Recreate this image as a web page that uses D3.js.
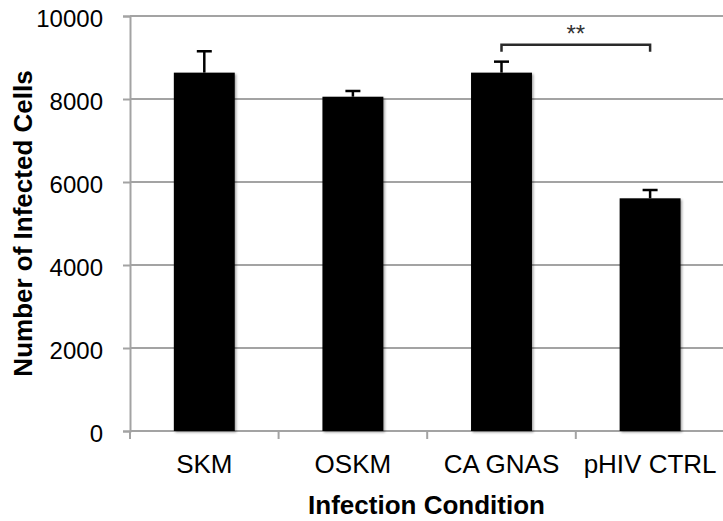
<!DOCTYPE html>
<html>
<head>
<meta charset="utf-8">
<script src="https://cdn.jsdelivr.net/npm/d3@7/dist/d3.min.js"></script>
<style>
  html, body { margin: 0; padding: 0; background: #fff; }
  svg { display: block; }
  text { font-family: "Liberation Sans", Arial, sans-serif; }
</style>
</head>
<body>
<svg id="chart" width="723" height="521"></svg>
<script>
const categories = ["SKM", "OSKM", "CA GNAS", "pHIV CTRL"];
const values = [8635, 8055, 8635, 5607];
const errors = [515, 138, 265, 200];
const yTicks = [0, 2000, 4000, 6000, 8000, 10000];
const sigPair = ["CA GNAS", "pHIV CTRL"];
const sigLabel = "**";
const xTitle = "Infection Condition";
const yTitle = "Number of Infected Cells";

(function () {
const svg = d3.select("#chart");
const W = 723, H = 521;
const mLeft = 130, mRight = 724.4, mTop = 16, mBottom = 431;

const y = d3.scaleLinear().domain([0, 10000]).range([mBottom, mTop]);
const xCat = d3.scaleBand().domain(categories).range([mLeft, mRight]).padding(0);
const barFrac = 0.41;
const bw = xCat.bandwidth() * barFrac;
const cx = d => xCat(d) + xCat.bandwidth() / 2;

const grid = "#a3a3a3";

const defs = svg.append("defs");
const f = defs.append("filter").attr("id", "sh").attr("x", "-10%").attr("y", "-10%").attr("width", "130%").attr("height", "130%");
f.append("feDropShadow").attr("dx", 1.5).attr("dy", 1.5).attr("stdDeviation", 1.2).attr("flood-color", "#000").attr("flood-opacity", 0.35);

// gridlines
svg.append("g").selectAll("line").data(yTicks.filter(t => t > 0)).join("line")
  .attr("x1", mLeft).attr("x2", W).attr("y1", d => y(d)).attr("y2", d => y(d))
  .attr("stroke", grid).attr("stroke-width", 2);

// y axis
const yAxis = d3.axisLeft(y).tickValues(yTicks).tickSize(7).tickPadding(20).tickFormat(d3.format("d"));
const gy = svg.append("g").attr("transform", `translate(${mLeft},0)`).call(yAxis);
gy.select(".domain").attr("stroke", grid).attr("stroke-width", 2);
gy.selectAll(".tick line").attr("stroke", grid).attr("stroke-width", 2);
gy.selectAll(".tick text").attr("fill", "#000").attr("font-size", 24).attr("dy", "0.45em")
  .style("font-family", "'Liberation Sans', Arial, sans-serif");

// x axis (category boundaries)
const boundaries = categories.map(c => xCat(c)).concat([xCat(categories[categories.length - 1]) + xCat.bandwidth()]);
svg.append("line").attr("x1", mLeft).attr("x2", W).attr("y1", mBottom).attr("y2", mBottom)
  .attr("stroke", grid).attr("stroke-width", 2);
svg.append("g").selectAll("line").data(boundaries).join("line")
  .attr("x1", d => d).attr("x2", d => d).attr("y1", mBottom).attr("y2", mBottom + 8)
  .attr("stroke", grid).attr("stroke-width", 2);

// bars
svg.append("g").selectAll("rect").data(categories).join("rect")
  .attr("x", d => cx(d) - bw / 2)
  .attr("width", bw)
  .attr("y", (d, i) => y(values[i]))
  .attr("height", (d, i) => y(0) - y(values[i]))
  .attr("fill", "#000")
  .attr("filter", "url(#sh)");

// error bars (upper)
const eg = svg.append("g").attr("stroke", "#000").attr("stroke-width", 2.5);
categories.forEach((c, i) => {
  eg.append("line").attr("x1", cx(c)).attr("x2", cx(c))
    .attr("y1", y(values[i])).attr("y2", y(values[i] + errors[i]));
  eg.append("line").attr("x1", cx(c) - 7.5).attr("x2", cx(c) + 7.5)
    .attr("y1", y(values[i] + errors[i])).attr("y2", y(values[i] + errors[i]));
});

// x labels
svg.append("g").selectAll("text").data(categories).join("text")
  .attr("x", d => cx(d)).attr("y", mBottom + 42)
  .attr("text-anchor", "middle").attr("font-size", 26).attr("fill", "#000")
  .text(d => d);

// significance bracket
const by = y(9310), bdrop = 7;
const x1 = cx(sigPair[0]), x2 = cx(sigPair[1]);
svg.append("path")
  .attr("d", `M${x1},${by + bdrop}V${by}H${x2}V${by + bdrop}`)
  .attr("fill", "none").attr("stroke", "#2a2a2a").attr("stroke-width", 2.5);
svg.append("text").attr("x", (x1 + x2) / 2).attr("y", by - 3)
  .attr("text-anchor", "middle").attr("font-size", 24).attr("fill", "#333")
  .text(sigLabel);

// axis titles
svg.append("text").attr("x", (mLeft + W) / 2).attr("y", 514)
  .attr("text-anchor", "middle").attr("font-size", 26).attr("font-weight", "bold")
  .text(xTitle);
svg.append("text").attr("transform", `translate(32,${(mTop + mBottom) / 2}) rotate(-90)`)
  .attr("text-anchor", "middle").attr("font-size", 26).attr("font-weight", "bold")
  .text(yTitle);
})();
</script>
</body>
</html>
